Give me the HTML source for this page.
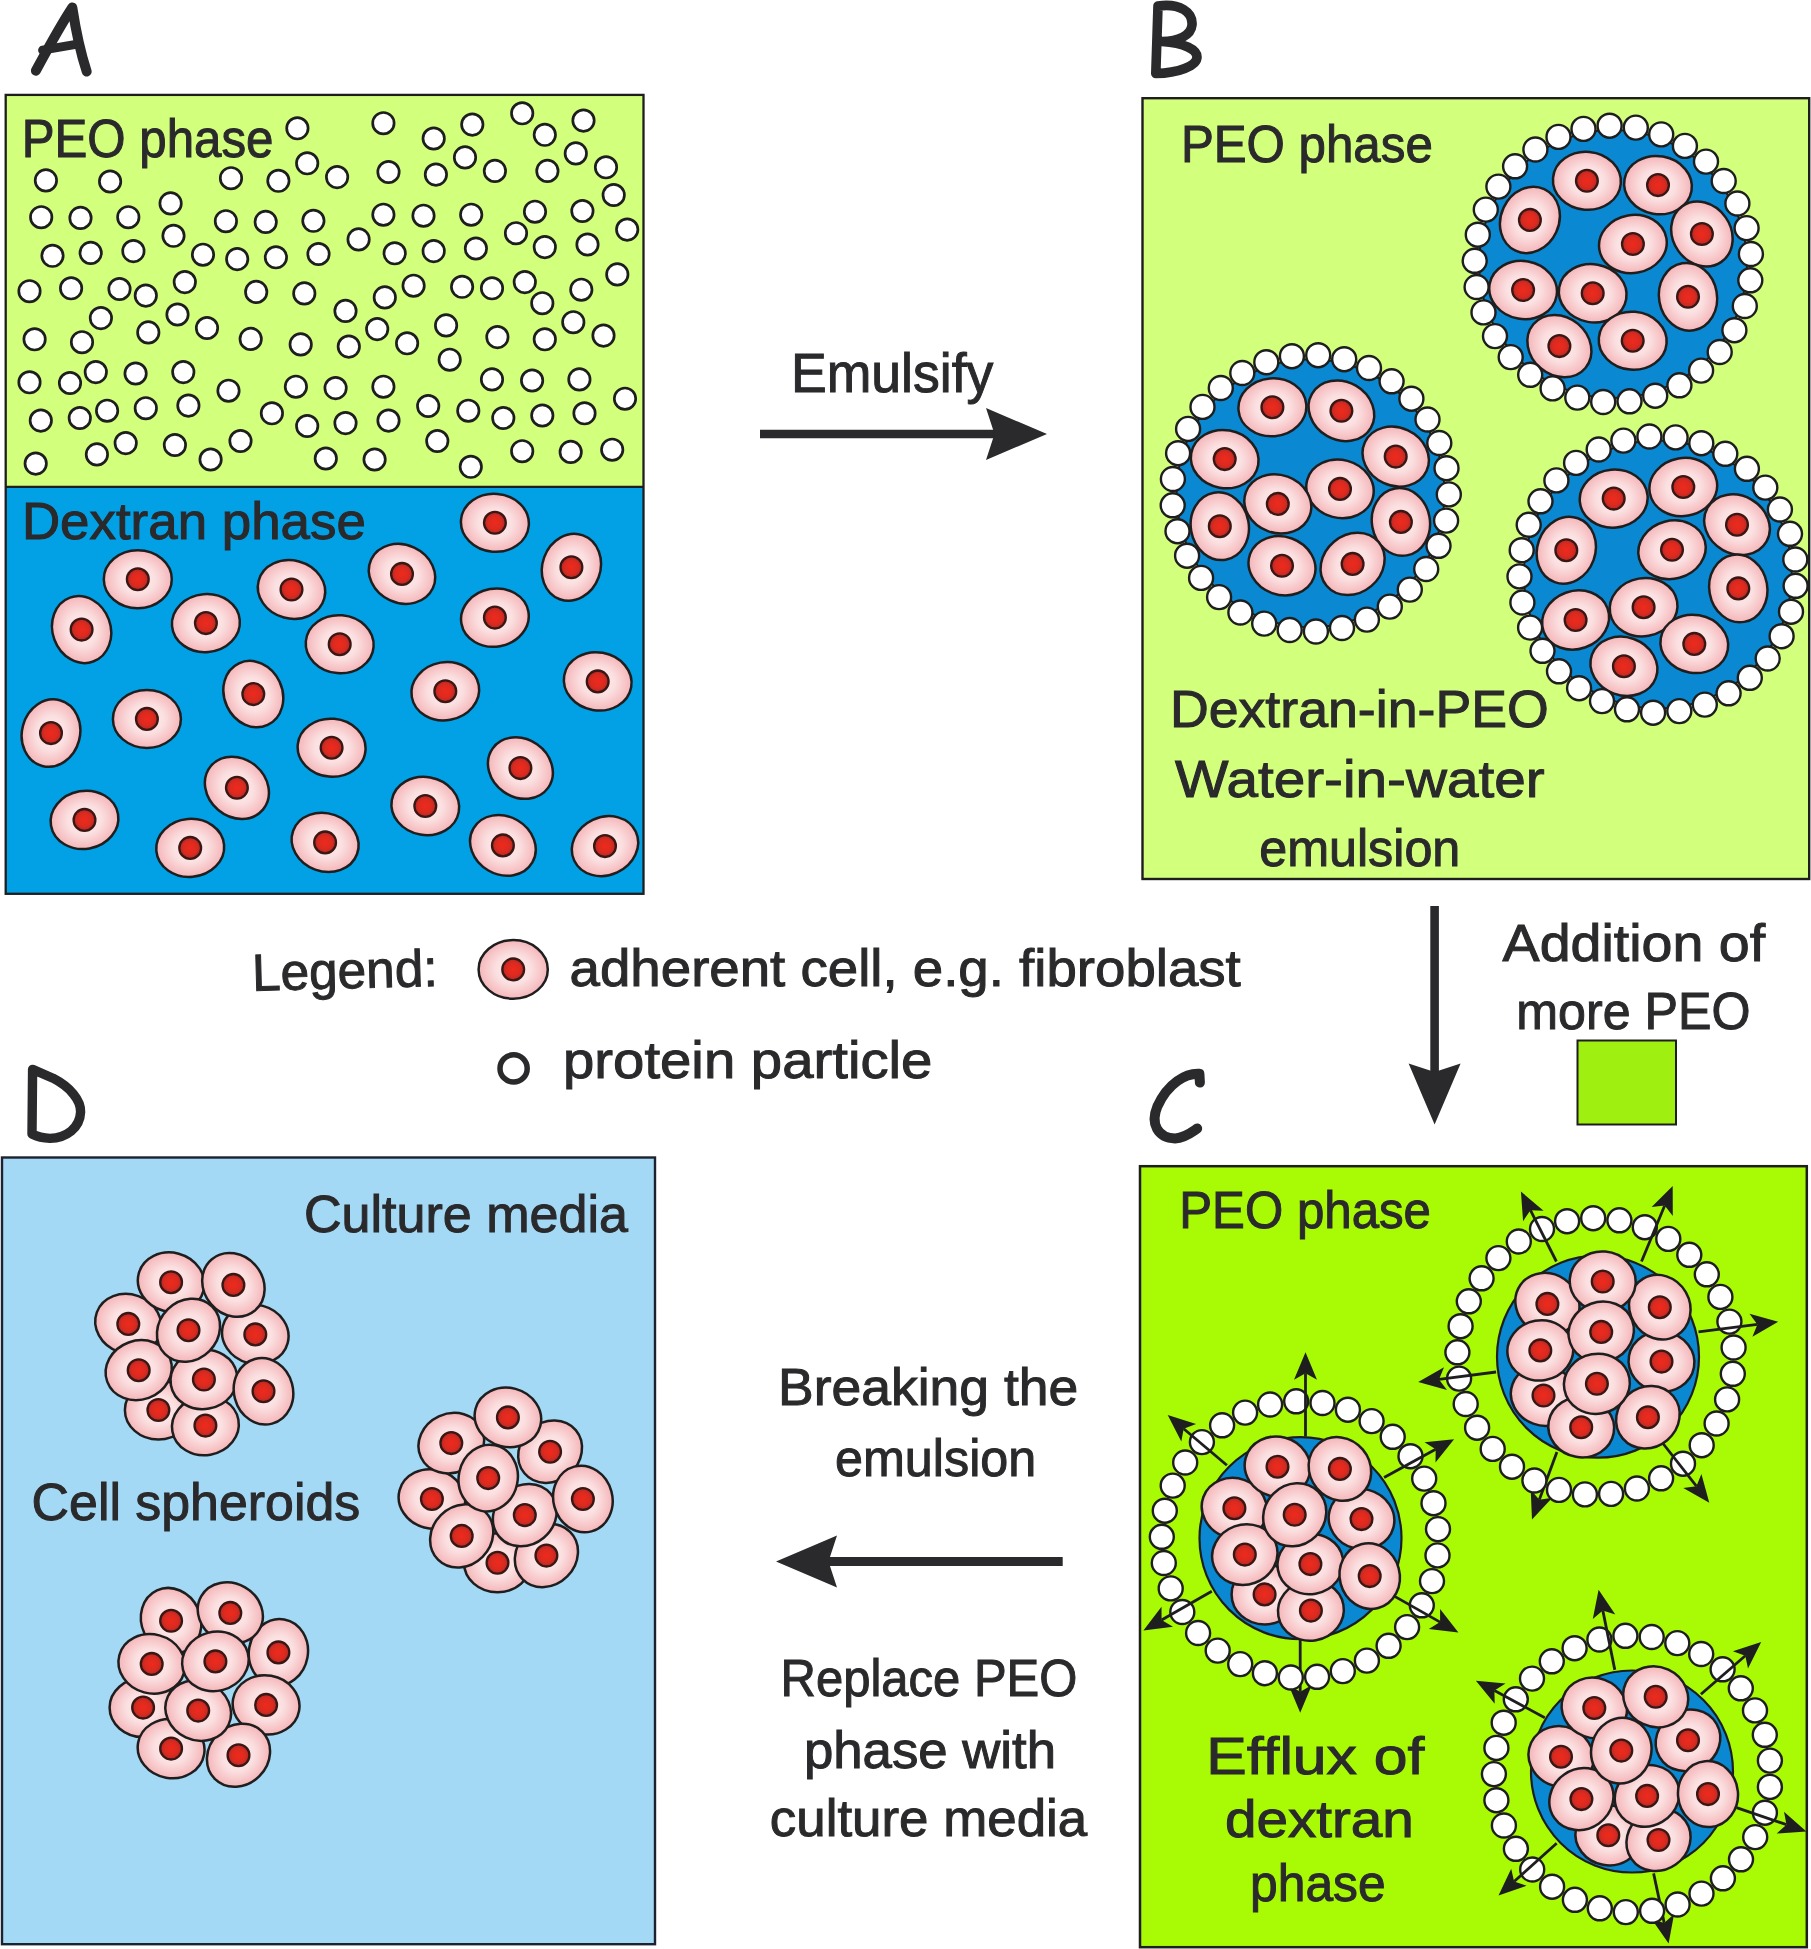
<!DOCTYPE html>
<html><head><meta charset="utf-8"><title>Figure</title>
<style>html,body{margin:0;padding:0;background:#fff}svg{display:block}</style></head>
<body>
<svg width="1811" height="1949" viewBox="0 0 1811 1949">
<defs>
<radialGradient id="cg" cx="50%" cy="50%" r="50%"><stop offset="0" stop-color="#fdeded"/><stop offset="0.5" stop-color="#fbe0e1"/><stop offset="1" stop-color="#f5b6b9"/></radialGradient>
<radialGradient id="ng" cx="50%" cy="50%" r="50%"><stop offset="0" stop-color="#ee2a1c"/><stop offset="0.6" stop-color="#dc2a20"/><stop offset="1" stop-color="#b02a24"/></radialGradient>
</defs>
<rect width="1811" height="1949" fill="#fff"/>
<rect x="5.7" y="94.9" width="637.8" height="392" fill="#d2ff7c"/>
<rect x="5.7" y="486.9" width="637.8" height="406.9" fill="#02a0e5"/>
<g fill="#fff" stroke="#1e1e1e" stroke-width="2.7">
<circle cx="297.4" cy="128.3" r="10.7"/>
<circle cx="383.4" cy="123.2" r="10.7"/>
<circle cx="433.7" cy="138.5" r="10.7"/>
<circle cx="472.3" cy="124.6" r="10.7"/>
<circle cx="522.2" cy="113.3" r="10.7"/>
<circle cx="544.8" cy="134.8" r="10.7"/>
<circle cx="583.5" cy="120.6" r="10.7"/>
<circle cx="45.9" cy="180.4" r="10.7"/>
<circle cx="110.1" cy="181.5" r="10.7"/>
<circle cx="231.0" cy="178.2" r="10.7"/>
<circle cx="278.4" cy="180.8" r="10.7"/>
<circle cx="307.2" cy="163.3" r="10.7"/>
<circle cx="337.1" cy="177.1" r="10.7"/>
<circle cx="388.5" cy="172.0" r="10.7"/>
<circle cx="435.9" cy="174.6" r="10.7"/>
<circle cx="465.0" cy="157.4" r="10.7"/>
<circle cx="494.9" cy="170.9" r="10.7"/>
<circle cx="547.4" cy="170.9" r="10.7"/>
<circle cx="575.8" cy="153.4" r="10.7"/>
<circle cx="606.0" cy="167.3" r="10.7"/>
<circle cx="170.6" cy="203.4" r="10.7"/>
<circle cx="41.2" cy="217.2" r="10.7"/>
<circle cx="80.5" cy="217.9" r="10.7"/>
<circle cx="128.3" cy="217.2" r="10.7"/>
<circle cx="225.9" cy="221.2" r="10.7"/>
<circle cx="265.7" cy="221.9" r="10.7"/>
<circle cx="313.4" cy="220.8" r="10.7"/>
<circle cx="383.4" cy="214.7" r="10.7"/>
<circle cx="423.5" cy="215.7" r="10.7"/>
<circle cx="471.2" cy="214.7" r="10.7"/>
<circle cx="535.0" cy="211.7" r="10.7"/>
<circle cx="582.4" cy="211.0" r="10.7"/>
<circle cx="613.7" cy="195.0" r="10.7"/>
<circle cx="627.2" cy="229.6" r="10.7"/>
<circle cx="173.5" cy="235.8" r="10.7"/>
<circle cx="52.5" cy="255.8" r="10.7"/>
<circle cx="90.7" cy="252.9" r="10.7"/>
<circle cx="133.4" cy="251.1" r="10.7"/>
<circle cx="203.0" cy="254.7" r="10.7"/>
<circle cx="237.2" cy="259.1" r="10.7"/>
<circle cx="275.9" cy="257.3" r="10.7"/>
<circle cx="318.5" cy="254.0" r="10.7"/>
<circle cx="358.6" cy="239.4" r="10.7"/>
<circle cx="394.7" cy="253.3" r="10.7"/>
<circle cx="433.7" cy="251.1" r="10.7"/>
<circle cx="475.9" cy="248.5" r="10.7"/>
<circle cx="516.0" cy="233.2" r="10.7"/>
<circle cx="544.8" cy="247.1" r="10.7"/>
<circle cx="587.5" cy="244.5" r="10.7"/>
<circle cx="29.5" cy="291.2" r="10.7"/>
<circle cx="71.1" cy="288.3" r="10.7"/>
<circle cx="119.5" cy="289.0" r="10.7"/>
<circle cx="145.8" cy="295.6" r="10.7"/>
<circle cx="184.8" cy="282.1" r="10.7"/>
<circle cx="256.2" cy="291.9" r="10.7"/>
<circle cx="304.3" cy="293.4" r="10.7"/>
<circle cx="384.8" cy="297.4" r="10.7"/>
<circle cx="413.6" cy="285.7" r="10.7"/>
<circle cx="462.1" cy="286.8" r="10.7"/>
<circle cx="492.0" cy="288.3" r="10.7"/>
<circle cx="524.8" cy="282.1" r="10.7"/>
<circle cx="542.3" cy="303.2" r="10.7"/>
<circle cx="581.3" cy="289.7" r="10.7"/>
<circle cx="617.3" cy="274.4" r="10.7"/>
<circle cx="100.9" cy="318.1" r="10.7"/>
<circle cx="177.5" cy="314.5" r="10.7"/>
<circle cx="207.0" cy="328.0" r="10.7"/>
<circle cx="345.5" cy="310.9" r="10.7"/>
<circle cx="377.2" cy="329.1" r="10.7"/>
<circle cx="446.1" cy="325.4" r="10.7"/>
<circle cx="34.6" cy="339.3" r="10.7"/>
<circle cx="82.0" cy="342.2" r="10.7"/>
<circle cx="148.3" cy="332.4" r="10.7"/>
<circle cx="250.7" cy="338.9" r="10.7"/>
<circle cx="300.7" cy="344.4" r="10.7"/>
<circle cx="348.8" cy="346.6" r="10.7"/>
<circle cx="407.1" cy="343.3" r="10.7"/>
<circle cx="497.4" cy="337.1" r="10.7"/>
<circle cx="544.8" cy="339.3" r="10.7"/>
<circle cx="573.3" cy="322.2" r="10.7"/>
<circle cx="603.5" cy="335.6" r="10.7"/>
<circle cx="449.7" cy="359.7" r="10.7"/>
<circle cx="95.8" cy="372.1" r="10.7"/>
<circle cx="135.6" cy="373.5" r="10.7"/>
<circle cx="183.3" cy="372.1" r="10.7"/>
<circle cx="29.5" cy="382.3" r="10.7"/>
<circle cx="70.0" cy="383.0" r="10.7"/>
<circle cx="228.5" cy="390.7" r="10.7"/>
<circle cx="295.9" cy="386.7" r="10.7"/>
<circle cx="335.6" cy="388.1" r="10.7"/>
<circle cx="383.4" cy="386.7" r="10.7"/>
<circle cx="492.0" cy="379.4" r="10.7"/>
<circle cx="532.1" cy="380.5" r="10.7"/>
<circle cx="579.4" cy="379.4" r="10.7"/>
<circle cx="625.0" cy="398.7" r="10.7"/>
<circle cx="40.8" cy="420.6" r="10.7"/>
<circle cx="79.8" cy="418.0" r="10.7"/>
<circle cx="107.1" cy="410.7" r="10.7"/>
<circle cx="145.8" cy="408.2" r="10.7"/>
<circle cx="188.4" cy="405.6" r="10.7"/>
<circle cx="271.9" cy="413.3" r="10.7"/>
<circle cx="307.2" cy="426.0" r="10.7"/>
<circle cx="345.5" cy="423.1" r="10.7"/>
<circle cx="388.5" cy="420.6" r="10.7"/>
<circle cx="428.2" cy="406.0" r="10.7"/>
<circle cx="468.3" cy="410.7" r="10.7"/>
<circle cx="503.3" cy="418.0" r="10.7"/>
<circle cx="542.3" cy="415.5" r="10.7"/>
<circle cx="584.5" cy="413.3" r="10.7"/>
<circle cx="125.7" cy="443.1" r="10.7"/>
<circle cx="174.9" cy="445.0" r="10.7"/>
<circle cx="240.5" cy="441.0" r="10.7"/>
<circle cx="96.9" cy="454.4" r="10.7"/>
<circle cx="35.7" cy="463.6" r="10.7"/>
<circle cx="210.6" cy="459.5" r="10.7"/>
<circle cx="325.8" cy="458.5" r="10.7"/>
<circle cx="374.6" cy="459.5" r="10.7"/>
<circle cx="437.3" cy="441.0" r="10.7"/>
<circle cx="470.8" cy="466.8" r="10.7"/>
<circle cx="522.2" cy="451.2" r="10.7"/>
<circle cx="570.7" cy="451.9" r="10.7"/>
<circle cx="612.2" cy="449.7" r="10.7"/>
</g>
<line x1="5.7" y1="486.9" x2="643.5" y2="486.9" stroke="#1e1e1e" stroke-width="2.1"/>
<rect x="5.7" y="94.9" width="637.8" height="798.9" fill="none" stroke="#1e1e1e" stroke-width="2.3"/>
<g transform="translate(494.9 522.8) rotate(5)"><ellipse rx="34" ry="29" fill="url(#cg)" stroke="#1e1e1e" stroke-width="2.5"/></g><circle cx="494.9" cy="522.8" r="10.9" fill="url(#ng)" stroke="#3a1614" stroke-width="2.3"/>
<g transform="translate(571.4 567.3) rotate(-70)"><ellipse rx="34" ry="29" fill="url(#cg)" stroke="#1e1e1e" stroke-width="2.5"/></g><circle cx="571.4" cy="567.3" r="10.9" fill="url(#ng)" stroke="#3a1614" stroke-width="2.3"/>
<g transform="translate(402.0 573.9) rotate(25)"><ellipse rx="34" ry="29" fill="url(#cg)" stroke="#1e1e1e" stroke-width="2.5"/></g><circle cx="402.0" cy="573.9" r="10.9" fill="url(#ng)" stroke="#3a1614" stroke-width="2.3"/>
<g transform="translate(137.8 579.3) rotate(0)"><ellipse rx="34" ry="29" fill="url(#cg)" stroke="#1e1e1e" stroke-width="2.5"/></g><circle cx="137.8" cy="579.3" r="10.9" fill="url(#ng)" stroke="#3a1614" stroke-width="2.3"/>
<g transform="translate(291.5 589.5) rotate(15)"><ellipse rx="34" ry="29" fill="url(#cg)" stroke="#1e1e1e" stroke-width="2.5"/></g><circle cx="291.5" cy="589.5" r="10.9" fill="url(#ng)" stroke="#3a1614" stroke-width="2.3"/>
<g transform="translate(494.9 617.6) rotate(-10)"><ellipse rx="34" ry="29" fill="url(#cg)" stroke="#1e1e1e" stroke-width="2.5"/></g><circle cx="494.9" cy="617.6" r="10.9" fill="url(#ng)" stroke="#3a1614" stroke-width="2.3"/>
<g transform="translate(205.9 623.1) rotate(-5)"><ellipse rx="34" ry="29" fill="url(#cg)" stroke="#1e1e1e" stroke-width="2.5"/></g><circle cx="205.9" cy="623.1" r="10.9" fill="url(#ng)" stroke="#3a1614" stroke-width="2.3"/>
<g transform="translate(81.6 629.6) rotate(70)"><ellipse rx="34" ry="29" fill="url(#cg)" stroke="#1e1e1e" stroke-width="2.5"/></g><circle cx="81.6" cy="629.6" r="10.9" fill="url(#ng)" stroke="#3a1614" stroke-width="2.3"/>
<g transform="translate(339.7 644.2) rotate(5)"><ellipse rx="34" ry="29" fill="url(#cg)" stroke="#1e1e1e" stroke-width="2.5"/></g><circle cx="339.7" cy="644.2" r="10.9" fill="url(#ng)" stroke="#3a1614" stroke-width="2.3"/>
<g transform="translate(597.7 681.4) rotate(10)"><ellipse rx="34" ry="29" fill="url(#cg)" stroke="#1e1e1e" stroke-width="2.5"/></g><circle cx="597.7" cy="681.4" r="10.9" fill="url(#ng)" stroke="#3a1614" stroke-width="2.3"/>
<g transform="translate(445.3 691.2) rotate(-10)"><ellipse rx="34" ry="29" fill="url(#cg)" stroke="#1e1e1e" stroke-width="2.5"/></g><circle cx="445.3" cy="691.2" r="10.9" fill="url(#ng)" stroke="#3a1614" stroke-width="2.3"/>
<g transform="translate(253.3 694.1) rotate(65)"><ellipse rx="34" ry="29" fill="url(#cg)" stroke="#1e1e1e" stroke-width="2.5"/></g><circle cx="253.3" cy="694.1" r="10.9" fill="url(#ng)" stroke="#3a1614" stroke-width="2.3"/>
<g transform="translate(146.9 718.9) rotate(0)"><ellipse rx="34" ry="29" fill="url(#cg)" stroke="#1e1e1e" stroke-width="2.5"/></g><circle cx="146.9" cy="718.9" r="10.9" fill="url(#ng)" stroke="#3a1614" stroke-width="2.3"/>
<g transform="translate(51.0 733.1) rotate(-75)"><ellipse rx="34" ry="29" fill="url(#cg)" stroke="#1e1e1e" stroke-width="2.5"/></g><circle cx="51.0" cy="733.1" r="10.9" fill="url(#ng)" stroke="#3a1614" stroke-width="2.3"/>
<g transform="translate(331.6 747.7) rotate(5)"><ellipse rx="34" ry="29" fill="url(#cg)" stroke="#1e1e1e" stroke-width="2.5"/></g><circle cx="331.6" cy="747.7" r="10.9" fill="url(#ng)" stroke="#3a1614" stroke-width="2.3"/>
<g transform="translate(520.4 768.1) rotate(35)"><ellipse rx="34" ry="29" fill="url(#cg)" stroke="#1e1e1e" stroke-width="2.5"/></g><circle cx="520.4" cy="768.1" r="10.9" fill="url(#ng)" stroke="#3a1614" stroke-width="2.3"/>
<g transform="translate(236.9 787.8) rotate(40)"><ellipse rx="34" ry="29" fill="url(#cg)" stroke="#1e1e1e" stroke-width="2.5"/></g><circle cx="236.9" cy="787.8" r="10.9" fill="url(#ng)" stroke="#3a1614" stroke-width="2.3"/>
<g transform="translate(425.3 806.0) rotate(10)"><ellipse rx="34" ry="29" fill="url(#cg)" stroke="#1e1e1e" stroke-width="2.5"/></g><circle cx="425.3" cy="806.0" r="10.9" fill="url(#ng)" stroke="#3a1614" stroke-width="2.3"/>
<g transform="translate(84.5 819.9) rotate(-10)"><ellipse rx="34" ry="29" fill="url(#cg)" stroke="#1e1e1e" stroke-width="2.5"/></g><circle cx="84.5" cy="819.9" r="10.9" fill="url(#ng)" stroke="#3a1614" stroke-width="2.3"/>
<g transform="translate(325.1 842.4) rotate(20)"><ellipse rx="34" ry="29" fill="url(#cg)" stroke="#1e1e1e" stroke-width="2.5"/></g><circle cx="325.1" cy="842.4" r="10.9" fill="url(#ng)" stroke="#3a1614" stroke-width="2.3"/>
<g transform="translate(190.2 847.9) rotate(-5)"><ellipse rx="34" ry="29" fill="url(#cg)" stroke="#1e1e1e" stroke-width="2.5"/></g><circle cx="190.2" cy="847.9" r="10.9" fill="url(#ng)" stroke="#3a1614" stroke-width="2.3"/>
<g transform="translate(502.9 845.4) rotate(30)"><ellipse rx="34" ry="29" fill="url(#cg)" stroke="#1e1e1e" stroke-width="2.5"/></g><circle cx="502.9" cy="845.4" r="10.9" fill="url(#ng)" stroke="#3a1614" stroke-width="2.3"/>
<g transform="translate(605.0 846.1) rotate(-25)"><ellipse rx="34" ry="29" fill="url(#cg)" stroke="#1e1e1e" stroke-width="2.5"/></g><circle cx="605.0" cy="846.1" r="10.9" fill="url(#ng)" stroke="#3a1614" stroke-width="2.3"/>
<rect x="1142.5" y="98.2" width="666.7" height="780.8" fill="#d2ff7c" stroke="#1e1e1e" stroke-width="2.4"/>
<circle cx="1613" cy="264" r="134" fill="#0a89d2" stroke="#1e1e1e" stroke-width="2"/>
<g transform="translate(1586.9 180.8) rotate(5)"><ellipse rx="34" ry="29" fill="url(#cg)" stroke="#1e1e1e" stroke-width="2.5"/></g><circle cx="1586.9" cy="180.8" r="10.9" fill="url(#ng)" stroke="#3a1614" stroke-width="2.3"/>
<g transform="translate(1658.0 185.1) rotate(10)"><ellipse rx="34" ry="29" fill="url(#cg)" stroke="#1e1e1e" stroke-width="2.5"/></g><circle cx="1658.0" cy="185.1" r="10.9" fill="url(#ng)" stroke="#3a1614" stroke-width="2.3"/>
<g transform="translate(1529.9 219.9) rotate(-65)"><ellipse rx="34" ry="29" fill="url(#cg)" stroke="#1e1e1e" stroke-width="2.5"/></g><circle cx="1529.9" cy="219.9" r="10.9" fill="url(#ng)" stroke="#3a1614" stroke-width="2.3"/>
<g transform="translate(1701.9 234.0) rotate(55)"><ellipse rx="34" ry="29" fill="url(#cg)" stroke="#1e1e1e" stroke-width="2.5"/></g><circle cx="1701.9" cy="234.0" r="10.9" fill="url(#ng)" stroke="#3a1614" stroke-width="2.3"/>
<g transform="translate(1632.9 244.0) rotate(-10)"><ellipse rx="34" ry="29" fill="url(#cg)" stroke="#1e1e1e" stroke-width="2.5"/></g><circle cx="1632.9" cy="244.0" r="10.9" fill="url(#ng)" stroke="#3a1614" stroke-width="2.3"/>
<g transform="translate(1523.1 290.0) rotate(10)"><ellipse rx="34" ry="29" fill="url(#cg)" stroke="#1e1e1e" stroke-width="2.5"/></g><circle cx="1523.1" cy="290.0" r="10.9" fill="url(#ng)" stroke="#3a1614" stroke-width="2.3"/>
<g transform="translate(1592.7 293.3) rotate(10)"><ellipse rx="34" ry="29" fill="url(#cg)" stroke="#1e1e1e" stroke-width="2.5"/></g><circle cx="1592.7" cy="293.3" r="10.9" fill="url(#ng)" stroke="#3a1614" stroke-width="2.3"/>
<g transform="translate(1688.0 296.8) rotate(80)"><ellipse rx="34" ry="29" fill="url(#cg)" stroke="#1e1e1e" stroke-width="2.5"/></g><circle cx="1688.0" cy="296.8" r="10.9" fill="url(#ng)" stroke="#3a1614" stroke-width="2.3"/>
<g transform="translate(1559.4 346.1) rotate(40)"><ellipse rx="34" ry="29" fill="url(#cg)" stroke="#1e1e1e" stroke-width="2.5"/></g><circle cx="1559.4" cy="346.1" r="10.9" fill="url(#ng)" stroke="#3a1614" stroke-width="2.3"/>
<g transform="translate(1632.7 340.7) rotate(5)"><ellipse rx="34" ry="29" fill="url(#cg)" stroke="#1e1e1e" stroke-width="2.5"/></g><circle cx="1632.7" cy="340.7" r="10.9" fill="url(#ng)" stroke="#3a1614" stroke-width="2.3"/>
<circle cx="1609.6" cy="125.7" r="12.0" fill="#fff" stroke="#1e1e1e" stroke-width="2.4"/>
<circle cx="1635.8" cy="127.6" r="12.0" fill="#fff" stroke="#1e1e1e" stroke-width="2.4"/>
<circle cx="1661.2" cy="134.4" r="12.0" fill="#fff" stroke="#1e1e1e" stroke-width="2.4"/>
<circle cx="1684.9" cy="145.9" r="12.0" fill="#fff" stroke="#1e1e1e" stroke-width="2.4"/>
<circle cx="1706.0" cy="161.6" r="12.0" fill="#fff" stroke="#1e1e1e" stroke-width="2.4"/>
<circle cx="1723.7" cy="181.0" r="12.0" fill="#fff" stroke="#1e1e1e" stroke-width="2.4"/>
<circle cx="1737.4" cy="203.5" r="12.0" fill="#fff" stroke="#1e1e1e" stroke-width="2.4"/>
<circle cx="1746.6" cy="228.1" r="12.0" fill="#fff" stroke="#1e1e1e" stroke-width="2.4"/>
<circle cx="1750.9" cy="254.0" r="12.0" fill="#fff" stroke="#1e1e1e" stroke-width="2.4"/>
<circle cx="1750.3" cy="280.3" r="12.0" fill="#fff" stroke="#1e1e1e" stroke-width="2.4"/>
<circle cx="1744.8" cy="306.0" r="12.0" fill="#fff" stroke="#1e1e1e" stroke-width="2.4"/>
<circle cx="1734.4" cy="330.2" r="12.0" fill="#fff" stroke="#1e1e1e" stroke-width="2.4"/>
<circle cx="1719.7" cy="352.0" r="12.0" fill="#fff" stroke="#1e1e1e" stroke-width="2.4"/>
<circle cx="1701.1" cy="370.6" r="12.0" fill="#fff" stroke="#1e1e1e" stroke-width="2.4"/>
<circle cx="1679.4" cy="385.3" r="12.0" fill="#fff" stroke="#1e1e1e" stroke-width="2.4"/>
<circle cx="1655.2" cy="395.7" r="12.0" fill="#fff" stroke="#1e1e1e" stroke-width="2.4"/>
<circle cx="1629.5" cy="401.3" r="12.0" fill="#fff" stroke="#1e1e1e" stroke-width="2.4"/>
<circle cx="1603.2" cy="402.0" r="12.0" fill="#fff" stroke="#1e1e1e" stroke-width="2.4"/>
<circle cx="1577.3" cy="397.6" r="12.0" fill="#fff" stroke="#1e1e1e" stroke-width="2.4"/>
<circle cx="1552.6" cy="388.4" r="12.0" fill="#fff" stroke="#1e1e1e" stroke-width="2.4"/>
<circle cx="1530.2" cy="374.8" r="12.0" fill="#fff" stroke="#1e1e1e" stroke-width="2.4"/>
<circle cx="1510.7" cy="357.1" r="12.0" fill="#fff" stroke="#1e1e1e" stroke-width="2.4"/>
<circle cx="1495.0" cy="336.1" r="12.0" fill="#fff" stroke="#1e1e1e" stroke-width="2.4"/>
<circle cx="1483.5" cy="312.4" r="12.0" fill="#fff" stroke="#1e1e1e" stroke-width="2.4"/>
<circle cx="1476.6" cy="287.0" r="12.0" fill="#fff" stroke="#1e1e1e" stroke-width="2.4"/>
<circle cx="1474.7" cy="260.8" r="12.0" fill="#fff" stroke="#1e1e1e" stroke-width="2.4"/>
<circle cx="1477.8" cy="234.7" r="12.0" fill="#fff" stroke="#1e1e1e" stroke-width="2.4"/>
<circle cx="1485.8" cy="209.6" r="12.0" fill="#fff" stroke="#1e1e1e" stroke-width="2.4"/>
<circle cx="1498.4" cy="186.6" r="12.0" fill="#fff" stroke="#1e1e1e" stroke-width="2.4"/>
<circle cx="1515.1" cy="166.3" r="12.0" fill="#fff" stroke="#1e1e1e" stroke-width="2.4"/>
<circle cx="1535.4" cy="149.5" r="12.0" fill="#fff" stroke="#1e1e1e" stroke-width="2.4"/>
<circle cx="1558.5" cy="136.9" r="12.0" fill="#fff" stroke="#1e1e1e" stroke-width="2.4"/>
<circle cx="1583.5" cy="128.9" r="12.0" fill="#fff" stroke="#1e1e1e" stroke-width="2.4"/>
<circle cx="1310.5" cy="493.3" r="134" fill="#0a89d2" stroke="#1e1e1e" stroke-width="2"/>
<g transform="translate(1272.4 407.3) rotate(-5)"><ellipse rx="34" ry="29" fill="url(#cg)" stroke="#1e1e1e" stroke-width="2.5"/></g><circle cx="1272.4" cy="407.3" r="10.9" fill="url(#ng)" stroke="#3a1614" stroke-width="2.3"/>
<g transform="translate(1341.4 410.8) rotate(30)"><ellipse rx="34" ry="29" fill="url(#cg)" stroke="#1e1e1e" stroke-width="2.5"/></g><circle cx="1341.4" cy="410.8" r="10.9" fill="url(#ng)" stroke="#3a1614" stroke-width="2.3"/>
<g transform="translate(1224.7 459.1) rotate(10)"><ellipse rx="34" ry="29" fill="url(#cg)" stroke="#1e1e1e" stroke-width="2.5"/></g><circle cx="1224.7" cy="459.1" r="10.9" fill="url(#ng)" stroke="#3a1614" stroke-width="2.3"/>
<g transform="translate(1395.7 456.6) rotate(25)"><ellipse rx="34" ry="29" fill="url(#cg)" stroke="#1e1e1e" stroke-width="2.5"/></g><circle cx="1395.7" cy="456.6" r="10.9" fill="url(#ng)" stroke="#3a1614" stroke-width="2.3"/>
<g transform="translate(1340.0 488.9) rotate(15)"><ellipse rx="34" ry="29" fill="url(#cg)" stroke="#1e1e1e" stroke-width="2.5"/></g><circle cx="1340.0" cy="488.9" r="10.9" fill="url(#ng)" stroke="#3a1614" stroke-width="2.3"/>
<g transform="translate(1277.8 503.9) rotate(20)"><ellipse rx="34" ry="29" fill="url(#cg)" stroke="#1e1e1e" stroke-width="2.5"/></g><circle cx="1277.8" cy="503.9" r="10.9" fill="url(#ng)" stroke="#3a1614" stroke-width="2.3"/>
<g transform="translate(1219.8 526.2) rotate(80)"><ellipse rx="34" ry="29" fill="url(#cg)" stroke="#1e1e1e" stroke-width="2.5"/></g><circle cx="1219.8" cy="526.2" r="10.9" fill="url(#ng)" stroke="#3a1614" stroke-width="2.3"/>
<g transform="translate(1400.9 521.9) rotate(80)"><ellipse rx="34" ry="29" fill="url(#cg)" stroke="#1e1e1e" stroke-width="2.5"/></g><circle cx="1400.9" cy="521.9" r="10.9" fill="url(#ng)" stroke="#3a1614" stroke-width="2.3"/>
<g transform="translate(1282.0 565.8) rotate(20)"><ellipse rx="34" ry="29" fill="url(#cg)" stroke="#1e1e1e" stroke-width="2.5"/></g><circle cx="1282.0" cy="565.8" r="10.9" fill="url(#ng)" stroke="#3a1614" stroke-width="2.3"/>
<g transform="translate(1352.6 563.9) rotate(-40)"><ellipse rx="34" ry="29" fill="url(#cg)" stroke="#1e1e1e" stroke-width="2.5"/></g><circle cx="1352.6" cy="563.9" r="10.9" fill="url(#ng)" stroke="#3a1614" stroke-width="2.3"/>
<circle cx="1318.2" cy="355.2" r="12.0" fill="#fff" stroke="#1e1e1e" stroke-width="2.4"/>
<circle cx="1344.2" cy="359.2" r="12.0" fill="#fff" stroke="#1e1e1e" stroke-width="2.4"/>
<circle cx="1369.0" cy="368.0" r="12.0" fill="#fff" stroke="#1e1e1e" stroke-width="2.4"/>
<circle cx="1391.6" cy="381.3" r="12.0" fill="#fff" stroke="#1e1e1e" stroke-width="2.4"/>
<circle cx="1411.4" cy="398.7" r="12.0" fill="#fff" stroke="#1e1e1e" stroke-width="2.4"/>
<circle cx="1427.5" cy="419.5" r="12.0" fill="#fff" stroke="#1e1e1e" stroke-width="2.4"/>
<circle cx="1439.3" cy="443.0" r="12.0" fill="#fff" stroke="#1e1e1e" stroke-width="2.4"/>
<circle cx="1446.5" cy="468.2" r="12.0" fill="#fff" stroke="#1e1e1e" stroke-width="2.4"/>
<circle cx="1448.8" cy="494.4" r="12.0" fill="#fff" stroke="#1e1e1e" stroke-width="2.4"/>
<circle cx="1446.1" cy="520.6" r="12.0" fill="#fff" stroke="#1e1e1e" stroke-width="2.4"/>
<circle cx="1438.5" cy="545.8" r="12.0" fill="#fff" stroke="#1e1e1e" stroke-width="2.4"/>
<circle cx="1426.2" cy="569.0" r="12.0" fill="#fff" stroke="#1e1e1e" stroke-width="2.4"/>
<circle cx="1409.8" cy="589.6" r="12.0" fill="#fff" stroke="#1e1e1e" stroke-width="2.4"/>
<circle cx="1389.8" cy="606.6" r="12.0" fill="#fff" stroke="#1e1e1e" stroke-width="2.4"/>
<circle cx="1366.9" cy="619.6" r="12.0" fill="#fff" stroke="#1e1e1e" stroke-width="2.4"/>
<circle cx="1342.0" cy="628.0" r="12.0" fill="#fff" stroke="#1e1e1e" stroke-width="2.4"/>
<circle cx="1315.9" cy="631.5" r="12.0" fill="#fff" stroke="#1e1e1e" stroke-width="2.4"/>
<circle cx="1289.7" cy="630.0" r="12.0" fill="#fff" stroke="#1e1e1e" stroke-width="2.4"/>
<circle cx="1264.2" cy="623.6" r="12.0" fill="#fff" stroke="#1e1e1e" stroke-width="2.4"/>
<circle cx="1240.4" cy="612.5" r="12.0" fill="#fff" stroke="#1e1e1e" stroke-width="2.4"/>
<circle cx="1219.1" cy="597.1" r="12.0" fill="#fff" stroke="#1e1e1e" stroke-width="2.4"/>
<circle cx="1201.1" cy="577.9" r="12.0" fill="#fff" stroke="#1e1e1e" stroke-width="2.4"/>
<circle cx="1187.1" cy="555.7" r="12.0" fill="#fff" stroke="#1e1e1e" stroke-width="2.4"/>
<circle cx="1177.5" cy="531.2" r="12.0" fill="#fff" stroke="#1e1e1e" stroke-width="2.4"/>
<circle cx="1172.7" cy="505.3" r="12.0" fill="#fff" stroke="#1e1e1e" stroke-width="2.4"/>
<circle cx="1172.9" cy="479.0" r="12.0" fill="#fff" stroke="#1e1e1e" stroke-width="2.4"/>
<circle cx="1178.1" cy="453.2" r="12.0" fill="#fff" stroke="#1e1e1e" stroke-width="2.4"/>
<circle cx="1188.1" cy="428.9" r="12.0" fill="#fff" stroke="#1e1e1e" stroke-width="2.4"/>
<circle cx="1202.5" cy="406.9" r="12.0" fill="#fff" stroke="#1e1e1e" stroke-width="2.4"/>
<circle cx="1220.8" cy="388.0" r="12.0" fill="#fff" stroke="#1e1e1e" stroke-width="2.4"/>
<circle cx="1242.3" cy="373.0" r="12.0" fill="#fff" stroke="#1e1e1e" stroke-width="2.4"/>
<circle cx="1266.3" cy="362.2" r="12.0" fill="#fff" stroke="#1e1e1e" stroke-width="2.4"/>
<circle cx="1291.9" cy="356.2" r="12.0" fill="#fff" stroke="#1e1e1e" stroke-width="2.4"/>
<circle cx="1657.8" cy="574.5" r="134" fill="#0a89d2" stroke="#1e1e1e" stroke-width="2"/>
<g transform="translate(1613.7 498.6) rotate(-5)"><ellipse rx="34" ry="29" fill="url(#cg)" stroke="#1e1e1e" stroke-width="2.5"/></g><circle cx="1613.7" cy="498.6" r="10.9" fill="url(#ng)" stroke="#3a1614" stroke-width="2.3"/>
<g transform="translate(1683.3 487.0) rotate(-10)"><ellipse rx="34" ry="29" fill="url(#cg)" stroke="#1e1e1e" stroke-width="2.5"/></g><circle cx="1683.3" cy="487.0" r="10.9" fill="url(#ng)" stroke="#3a1614" stroke-width="2.3"/>
<g transform="translate(1737.0 524.7) rotate(30)"><ellipse rx="34" ry="29" fill="url(#cg)" stroke="#1e1e1e" stroke-width="2.5"/></g><circle cx="1737.0" cy="524.7" r="10.9" fill="url(#ng)" stroke="#3a1614" stroke-width="2.3"/>
<g transform="translate(1566.3 550.2) rotate(-70)"><ellipse rx="34" ry="29" fill="url(#cg)" stroke="#1e1e1e" stroke-width="2.5"/></g><circle cx="1566.3" cy="550.2" r="10.9" fill="url(#ng)" stroke="#3a1614" stroke-width="2.3"/>
<g transform="translate(1672.0 549.8) rotate(-15)"><ellipse rx="34" ry="29" fill="url(#cg)" stroke="#1e1e1e" stroke-width="2.5"/></g><circle cx="1672.0" cy="549.8" r="10.9" fill="url(#ng)" stroke="#3a1614" stroke-width="2.3"/>
<g transform="translate(1738.3 588.4) rotate(80)"><ellipse rx="34" ry="29" fill="url(#cg)" stroke="#1e1e1e" stroke-width="2.5"/></g><circle cx="1738.3" cy="588.4" r="10.9" fill="url(#ng)" stroke="#3a1614" stroke-width="2.3"/>
<g transform="translate(1643.6 607.2) rotate(-10)"><ellipse rx="34" ry="29" fill="url(#cg)" stroke="#1e1e1e" stroke-width="2.5"/></g><circle cx="1643.6" cy="607.2" r="10.9" fill="url(#ng)" stroke="#3a1614" stroke-width="2.3"/>
<g transform="translate(1575.6 620.0) rotate(-20)"><ellipse rx="34" ry="29" fill="url(#cg)" stroke="#1e1e1e" stroke-width="2.5"/></g><circle cx="1575.6" cy="620.0" r="10.9" fill="url(#ng)" stroke="#3a1614" stroke-width="2.3"/>
<g transform="translate(1694.3 643.9) rotate(10)"><ellipse rx="34" ry="29" fill="url(#cg)" stroke="#1e1e1e" stroke-width="2.5"/></g><circle cx="1694.3" cy="643.9" r="10.9" fill="url(#ng)" stroke="#3a1614" stroke-width="2.3"/>
<g transform="translate(1623.9 666.3) rotate(20)"><ellipse rx="34" ry="29" fill="url(#cg)" stroke="#1e1e1e" stroke-width="2.5"/></g><circle cx="1623.9" cy="666.3" r="10.9" fill="url(#ng)" stroke="#3a1614" stroke-width="2.3"/>
<circle cx="1649.4" cy="436.5" r="12.0" fill="#fff" stroke="#1e1e1e" stroke-width="2.4"/>
<circle cx="1675.6" cy="437.4" r="12.0" fill="#fff" stroke="#1e1e1e" stroke-width="2.4"/>
<circle cx="1701.3" cy="443.2" r="12.0" fill="#fff" stroke="#1e1e1e" stroke-width="2.4"/>
<circle cx="1725.3" cy="453.8" r="12.0" fill="#fff" stroke="#1e1e1e" stroke-width="2.4"/>
<circle cx="1746.9" cy="468.8" r="12.0" fill="#fff" stroke="#1e1e1e" stroke-width="2.4"/>
<circle cx="1765.3" cy="487.6" r="12.0" fill="#fff" stroke="#1e1e1e" stroke-width="2.4"/>
<circle cx="1779.9" cy="509.5" r="12.0" fill="#fff" stroke="#1e1e1e" stroke-width="2.4"/>
<circle cx="1790.0" cy="533.8" r="12.0" fill="#fff" stroke="#1e1e1e" stroke-width="2.4"/>
<circle cx="1795.3" cy="559.5" r="12.0" fill="#fff" stroke="#1e1e1e" stroke-width="2.4"/>
<circle cx="1795.6" cy="585.8" r="12.0" fill="#fff" stroke="#1e1e1e" stroke-width="2.4"/>
<circle cx="1791.0" cy="611.7" r="12.0" fill="#fff" stroke="#1e1e1e" stroke-width="2.4"/>
<circle cx="1781.6" cy="636.2" r="12.0" fill="#fff" stroke="#1e1e1e" stroke-width="2.4"/>
<circle cx="1767.7" cy="658.5" r="12.0" fill="#fff" stroke="#1e1e1e" stroke-width="2.4"/>
<circle cx="1749.8" cy="677.8" r="12.0" fill="#fff" stroke="#1e1e1e" stroke-width="2.4"/>
<circle cx="1728.6" cy="693.3" r="12.0" fill="#fff" stroke="#1e1e1e" stroke-width="2.4"/>
<circle cx="1704.8" cy="704.6" r="12.0" fill="#fff" stroke="#1e1e1e" stroke-width="2.4"/>
<circle cx="1679.3" cy="711.1" r="12.0" fill="#fff" stroke="#1e1e1e" stroke-width="2.4"/>
<circle cx="1653.1" cy="712.7" r="12.0" fill="#fff" stroke="#1e1e1e" stroke-width="2.4"/>
<circle cx="1627.0" cy="709.3" r="12.0" fill="#fff" stroke="#1e1e1e" stroke-width="2.4"/>
<circle cx="1602.0" cy="701.1" r="12.0" fill="#fff" stroke="#1e1e1e" stroke-width="2.4"/>
<circle cx="1579.1" cy="688.2" r="12.0" fill="#fff" stroke="#1e1e1e" stroke-width="2.4"/>
<circle cx="1559.0" cy="671.3" r="12.0" fill="#fff" stroke="#1e1e1e" stroke-width="2.4"/>
<circle cx="1542.5" cy="650.8" r="12.0" fill="#fff" stroke="#1e1e1e" stroke-width="2.4"/>
<circle cx="1530.1" cy="627.6" r="12.0" fill="#fff" stroke="#1e1e1e" stroke-width="2.4"/>
<circle cx="1522.4" cy="602.5" r="12.0" fill="#fff" stroke="#1e1e1e" stroke-width="2.4"/>
<circle cx="1519.5" cy="576.4" r="12.0" fill="#fff" stroke="#1e1e1e" stroke-width="2.4"/>
<circle cx="1521.7" cy="550.2" r="12.0" fill="#fff" stroke="#1e1e1e" stroke-width="2.4"/>
<circle cx="1528.7" cy="524.8" r="12.0" fill="#fff" stroke="#1e1e1e" stroke-width="2.4"/>
<circle cx="1540.5" cy="501.3" r="12.0" fill="#fff" stroke="#1e1e1e" stroke-width="2.4"/>
<circle cx="1556.4" cy="480.4" r="12.0" fill="#fff" stroke="#1e1e1e" stroke-width="2.4"/>
<circle cx="1576.1" cy="462.9" r="12.0" fill="#fff" stroke="#1e1e1e" stroke-width="2.4"/>
<circle cx="1598.7" cy="449.5" r="12.0" fill="#fff" stroke="#1e1e1e" stroke-width="2.4"/>
<circle cx="1623.4" cy="440.6" r="12.0" fill="#fff" stroke="#1e1e1e" stroke-width="2.4"/>
<rect x="1140" y="1166.2" width="666.8" height="781" fill="#a8fb05" stroke="#1e1e1e" stroke-width="2.5"/>
<circle cx="1598" cy="1356.7" r="101" fill="#0a89d2" stroke="#1e1e1e" stroke-width="2.2"/>
<g transform="translate(1547.4 1303.9) rotate(35)"><ellipse rx="33" ry="30" fill="url(#cg)" stroke="#1e1e1e" stroke-width="2.5"/></g><circle cx="1547.4" cy="1303.9" r="10.9" fill="url(#ng)" stroke="#3a1614" stroke-width="2.3"/>
<g transform="translate(1543.5 1395.5) rotate(20)"><ellipse rx="33" ry="30" fill="url(#cg)" stroke="#1e1e1e" stroke-width="2.5"/></g><circle cx="1543.5" cy="1395.5" r="10.9" fill="url(#ng)" stroke="#3a1614" stroke-width="2.3"/>
<g transform="translate(1661.5 1361.6) rotate(10)"><ellipse rx="33" ry="30" fill="url(#cg)" stroke="#1e1e1e" stroke-width="2.5"/></g><circle cx="1661.5" cy="1361.6" r="10.9" fill="url(#ng)" stroke="#3a1614" stroke-width="2.3"/>
<g transform="translate(1540.3 1350.4) rotate(-10)"><ellipse rx="33" ry="30" fill="url(#cg)" stroke="#1e1e1e" stroke-width="2.5"/></g><circle cx="1540.3" cy="1350.4" r="10.9" fill="url(#ng)" stroke="#3a1614" stroke-width="2.3"/>
<g transform="translate(1659.8 1307.2) rotate(60)"><ellipse rx="33" ry="30" fill="url(#cg)" stroke="#1e1e1e" stroke-width="2.5"/></g><circle cx="1659.8" cy="1307.2" r="10.9" fill="url(#ng)" stroke="#3a1614" stroke-width="2.3"/>
<g transform="translate(1602.7 1281.5) rotate(5)"><ellipse rx="33" ry="30" fill="url(#cg)" stroke="#1e1e1e" stroke-width="2.5"/></g><circle cx="1602.7" cy="1281.5" r="10.9" fill="url(#ng)" stroke="#3a1614" stroke-width="2.3"/>
<g transform="translate(1581.2 1427.3) rotate(10)"><ellipse rx="33" ry="30" fill="url(#cg)" stroke="#1e1e1e" stroke-width="2.5"/></g><circle cx="1581.2" cy="1427.3" r="10.9" fill="url(#ng)" stroke="#3a1614" stroke-width="2.3"/>
<g transform="translate(1647.9 1417.2) rotate(-40)"><ellipse rx="33" ry="30" fill="url(#cg)" stroke="#1e1e1e" stroke-width="2.5"/></g><circle cx="1647.9" cy="1417.2" r="10.9" fill="url(#ng)" stroke="#3a1614" stroke-width="2.3"/>
<g transform="translate(1601.2 1331.9) rotate(-20)"><ellipse rx="33" ry="30" fill="url(#cg)" stroke="#1e1e1e" stroke-width="2.5"/></g><circle cx="1601.2" cy="1331.9" r="10.9" fill="url(#ng)" stroke="#3a1614" stroke-width="2.3"/>
<g transform="translate(1596.9 1383.8) rotate(-10)"><ellipse rx="33" ry="30" fill="url(#cg)" stroke="#1e1e1e" stroke-width="2.5"/></g><circle cx="1596.9" cy="1383.8" r="10.9" fill="url(#ng)" stroke="#3a1614" stroke-width="2.3"/>
<line x1="1556.9" y1="1452.1" x2="1539.3" y2="1499.8" stroke="#1e1e1e" stroke-width="2.8"/>
<path d="M1532.0 1519.5 L1530.7 1489.7 L1539.3 1499.8 L1552.3 1497.7Z" fill="#1e1e1e"/>
<circle cx="1593.2" cy="1218.2" r="12.0" fill="#fff" stroke="#1e1e1e" stroke-width="2.4"/>
<circle cx="1619.4" cy="1220.3" r="12.0" fill="#fff" stroke="#1e1e1e" stroke-width="2.4"/>
<circle cx="1644.8" cy="1227.2" r="12.0" fill="#fff" stroke="#1e1e1e" stroke-width="2.4"/>
<circle cx="1668.3" cy="1238.9" r="12.0" fill="#fff" stroke="#1e1e1e" stroke-width="2.4"/>
<circle cx="1689.3" cy="1254.8" r="12.0" fill="#fff" stroke="#1e1e1e" stroke-width="2.4"/>
<circle cx="1706.8" cy="1274.3" r="12.0" fill="#fff" stroke="#1e1e1e" stroke-width="2.4"/>
<circle cx="1720.4" cy="1296.9" r="12.0" fill="#fff" stroke="#1e1e1e" stroke-width="2.4"/>
<circle cx="1729.4" cy="1321.6" r="12.0" fill="#fff" stroke="#1e1e1e" stroke-width="2.4"/>
<circle cx="1733.6" cy="1347.5" r="12.0" fill="#fff" stroke="#1e1e1e" stroke-width="2.4"/>
<circle cx="1732.8" cy="1373.8" r="12.0" fill="#fff" stroke="#1e1e1e" stroke-width="2.4"/>
<circle cx="1727.1" cy="1399.4" r="12.0" fill="#fff" stroke="#1e1e1e" stroke-width="2.4"/>
<circle cx="1716.6" cy="1423.5" r="12.0" fill="#fff" stroke="#1e1e1e" stroke-width="2.4"/>
<circle cx="1701.7" cy="1445.2" r="12.0" fill="#fff" stroke="#1e1e1e" stroke-width="2.4"/>
<circle cx="1683.0" cy="1463.7" r="12.0" fill="#fff" stroke="#1e1e1e" stroke-width="2.4"/>
<circle cx="1661.1" cy="1478.3" r="12.0" fill="#fff" stroke="#1e1e1e" stroke-width="2.4"/>
<circle cx="1636.9" cy="1488.5" r="12.0" fill="#fff" stroke="#1e1e1e" stroke-width="2.4"/>
<circle cx="1611.1" cy="1493.9" r="12.0" fill="#fff" stroke="#1e1e1e" stroke-width="2.4"/>
<circle cx="1584.9" cy="1494.4" r="12.0" fill="#fff" stroke="#1e1e1e" stroke-width="2.4"/>
<circle cx="1559.0" cy="1489.9" r="12.0" fill="#fff" stroke="#1e1e1e" stroke-width="2.4"/>
<circle cx="1534.4" cy="1480.5" r="12.0" fill="#fff" stroke="#1e1e1e" stroke-width="2.4"/>
<circle cx="1512.0" cy="1466.7" r="12.0" fill="#fff" stroke="#1e1e1e" stroke-width="2.4"/>
<circle cx="1492.7" cy="1448.9" r="12.0" fill="#fff" stroke="#1e1e1e" stroke-width="2.4"/>
<circle cx="1477.1" cy="1427.7" r="12.0" fill="#fff" stroke="#1e1e1e" stroke-width="2.4"/>
<circle cx="1465.7" cy="1404.0" r="12.0" fill="#fff" stroke="#1e1e1e" stroke-width="2.4"/>
<circle cx="1459.1" cy="1378.6" r="12.0" fill="#fff" stroke="#1e1e1e" stroke-width="2.4"/>
<circle cx="1457.4" cy="1352.3" r="12.0" fill="#fff" stroke="#1e1e1e" stroke-width="2.4"/>
<circle cx="1460.6" cy="1326.2" r="12.0" fill="#fff" stroke="#1e1e1e" stroke-width="2.4"/>
<circle cx="1468.8" cy="1301.3" r="12.0" fill="#fff" stroke="#1e1e1e" stroke-width="2.4"/>
<circle cx="1481.6" cy="1278.3" r="12.0" fill="#fff" stroke="#1e1e1e" stroke-width="2.4"/>
<circle cx="1498.4" cy="1258.1" r="12.0" fill="#fff" stroke="#1e1e1e" stroke-width="2.4"/>
<circle cx="1518.8" cy="1241.5" r="12.0" fill="#fff" stroke="#1e1e1e" stroke-width="2.4"/>
<circle cx="1542.0" cy="1229.0" r="12.0" fill="#fff" stroke="#1e1e1e" stroke-width="2.4"/>
<circle cx="1567.1" cy="1221.2" r="12.0" fill="#fff" stroke="#1e1e1e" stroke-width="2.4"/>
<line x1="1556.4" y1="1261.5" x2="1530.4" y2="1210.2" stroke="#1e1e1e" stroke-width="2.8"/>
<path d="M1520.9 1191.5 L1543.6 1210.8 L1530.4 1210.2 L1523.1 1221.2Z" fill="#1e1e1e"/>
<line x1="1641.5" y1="1261.5" x2="1664.7" y2="1205.5" stroke="#1e1e1e" stroke-width="2.8"/>
<path d="M1672.7 1186.1 L1672.8 1215.9 L1664.7 1205.5 L1651.6 1207.1Z" fill="#1e1e1e"/>
<line x1="1698.5" y1="1331.9" x2="1757.4" y2="1324.4" stroke="#1e1e1e" stroke-width="2.8"/>
<path d="M1778.2 1321.8 L1752.4 1336.7 L1757.4 1324.4 L1749.5 1313.8Z" fill="#1e1e1e"/>
<line x1="1496.1" y1="1372.0" x2="1439.0" y2="1379.4" stroke="#1e1e1e" stroke-width="2.8"/>
<path d="M1418.2 1382.1 L1444.0 1367.2 L1439.0 1379.4 L1447.0 1390.0Z" fill="#1e1e1e"/>
<line x1="1663.0" y1="1443.5" x2="1696.4" y2="1486.2" stroke="#1e1e1e" stroke-width="2.8"/>
<path d="M1709.3 1502.7 L1683.3 1488.1 L1696.4 1486.2 L1701.4 1474.0Z" fill="#1e1e1e"/>
<circle cx="1300.5" cy="1538.2" r="101" fill="#0a89d2" stroke="#1e1e1e" stroke-width="2.2"/>
<g transform="translate(1234.4 1508.3) rotate(20)"><ellipse rx="33" ry="30" fill="url(#cg)" stroke="#1e1e1e" stroke-width="2.5"/></g><circle cx="1234.4" cy="1508.3" r="10.9" fill="url(#ng)" stroke="#3a1614" stroke-width="2.3"/>
<g transform="translate(1277.5 1466.7) rotate(15)"><ellipse rx="33" ry="30" fill="url(#cg)" stroke="#1e1e1e" stroke-width="2.5"/></g><circle cx="1277.5" cy="1466.7" r="10.9" fill="url(#ng)" stroke="#3a1614" stroke-width="2.3"/>
<g transform="translate(1361.5 1519.1) rotate(15)"><ellipse rx="33" ry="30" fill="url(#cg)" stroke="#1e1e1e" stroke-width="2.5"/></g><circle cx="1361.5" cy="1519.1" r="10.9" fill="url(#ng)" stroke="#3a1614" stroke-width="2.3"/>
<g transform="translate(1339.9 1468.9) rotate(50)"><ellipse rx="33" ry="30" fill="url(#cg)" stroke="#1e1e1e" stroke-width="2.5"/></g><circle cx="1339.9" cy="1468.9" r="10.9" fill="url(#ng)" stroke="#3a1614" stroke-width="2.3"/>
<g transform="translate(1264.6 1594.4) rotate(0)"><ellipse rx="33" ry="30" fill="url(#cg)" stroke="#1e1e1e" stroke-width="2.5"/></g><circle cx="1264.6" cy="1594.4" r="10.9" fill="url(#ng)" stroke="#3a1614" stroke-width="2.3"/>
<g transform="translate(1310.9 1610.6) rotate(-10)"><ellipse rx="33" ry="30" fill="url(#cg)" stroke="#1e1e1e" stroke-width="2.5"/></g><circle cx="1310.9" cy="1610.6" r="10.9" fill="url(#ng)" stroke="#3a1614" stroke-width="2.3"/>
<g transform="translate(1244.8 1554.6) rotate(-20)"><ellipse rx="33" ry="30" fill="url(#cg)" stroke="#1e1e1e" stroke-width="2.5"/></g><circle cx="1244.8" cy="1554.6" r="10.9" fill="url(#ng)" stroke="#3a1614" stroke-width="2.3"/>
<g transform="translate(1310.4 1564.1) rotate(-10)"><ellipse rx="33" ry="30" fill="url(#cg)" stroke="#1e1e1e" stroke-width="2.5"/></g><circle cx="1310.4" cy="1564.1" r="10.9" fill="url(#ng)" stroke="#3a1614" stroke-width="2.3"/>
<g transform="translate(1369.7 1576.1) rotate(75)"><ellipse rx="33" ry="30" fill="url(#cg)" stroke="#1e1e1e" stroke-width="2.5"/></g><circle cx="1369.7" cy="1576.1" r="10.9" fill="url(#ng)" stroke="#3a1614" stroke-width="2.3"/>
<g transform="translate(1294.7 1514.8) rotate(-45)"><ellipse rx="33" ry="30" fill="url(#cg)" stroke="#1e1e1e" stroke-width="2.5"/></g><circle cx="1294.7" cy="1514.8" r="10.9" fill="url(#ng)" stroke="#3a1614" stroke-width="2.3"/>
<line x1="1300.2" y1="1640.1" x2="1300.2" y2="1691.8" stroke="#1e1e1e" stroke-width="2.8"/>
<path d="M1300.2 1712.8 L1288.7 1685.3 L1300.2 1691.8 L1311.7 1685.3Z" fill="#1e1e1e"/>
<circle cx="1296.2" cy="1401.3" r="12.0" fill="#fff" stroke="#1e1e1e" stroke-width="2.4"/>
<circle cx="1322.5" cy="1403.0" r="12.0" fill="#fff" stroke="#1e1e1e" stroke-width="2.4"/>
<circle cx="1347.9" cy="1409.7" r="12.0" fill="#fff" stroke="#1e1e1e" stroke-width="2.4"/>
<circle cx="1371.6" cy="1421.1" r="12.0" fill="#fff" stroke="#1e1e1e" stroke-width="2.4"/>
<circle cx="1392.7" cy="1436.8" r="12.0" fill="#fff" stroke="#1e1e1e" stroke-width="2.4"/>
<circle cx="1410.5" cy="1456.2" r="12.0" fill="#fff" stroke="#1e1e1e" stroke-width="2.4"/>
<circle cx="1424.2" cy="1478.6" r="12.0" fill="#fff" stroke="#1e1e1e" stroke-width="2.4"/>
<circle cx="1433.5" cy="1503.2" r="12.0" fill="#fff" stroke="#1e1e1e" stroke-width="2.4"/>
<circle cx="1438.0" cy="1529.1" r="12.0" fill="#fff" stroke="#1e1e1e" stroke-width="2.4"/>
<circle cx="1437.5" cy="1555.4" r="12.0" fill="#fff" stroke="#1e1e1e" stroke-width="2.4"/>
<circle cx="1432.0" cy="1581.1" r="12.0" fill="#fff" stroke="#1e1e1e" stroke-width="2.4"/>
<circle cx="1421.8" cy="1605.3" r="12.0" fill="#fff" stroke="#1e1e1e" stroke-width="2.4"/>
<circle cx="1407.1" cy="1627.1" r="12.0" fill="#fff" stroke="#1e1e1e" stroke-width="2.4"/>
<circle cx="1388.6" cy="1645.8" r="12.0" fill="#fff" stroke="#1e1e1e" stroke-width="2.4"/>
<circle cx="1366.9" cy="1660.6" r="12.0" fill="#fff" stroke="#1e1e1e" stroke-width="2.4"/>
<circle cx="1342.8" cy="1671.1" r="12.0" fill="#fff" stroke="#1e1e1e" stroke-width="2.4"/>
<circle cx="1317.1" cy="1676.8" r="12.0" fill="#fff" stroke="#1e1e1e" stroke-width="2.4"/>
<circle cx="1290.8" cy="1677.5" r="12.0" fill="#fff" stroke="#1e1e1e" stroke-width="2.4"/>
<circle cx="1264.9" cy="1673.2" r="12.0" fill="#fff" stroke="#1e1e1e" stroke-width="2.4"/>
<circle cx="1240.2" cy="1664.1" r="12.0" fill="#fff" stroke="#1e1e1e" stroke-width="2.4"/>
<circle cx="1217.7" cy="1650.6" r="12.0" fill="#fff" stroke="#1e1e1e" stroke-width="2.4"/>
<circle cx="1198.1" cy="1633.0" r="12.0" fill="#fff" stroke="#1e1e1e" stroke-width="2.4"/>
<circle cx="1182.3" cy="1612.0" r="12.0" fill="#fff" stroke="#1e1e1e" stroke-width="2.4"/>
<circle cx="1170.7" cy="1588.4" r="12.0" fill="#fff" stroke="#1e1e1e" stroke-width="2.4"/>
<circle cx="1163.8" cy="1563.0" r="12.0" fill="#fff" stroke="#1e1e1e" stroke-width="2.4"/>
<circle cx="1161.8" cy="1536.8" r="12.0" fill="#fff" stroke="#1e1e1e" stroke-width="2.4"/>
<circle cx="1164.8" cy="1510.7" r="12.0" fill="#fff" stroke="#1e1e1e" stroke-width="2.4"/>
<circle cx="1172.7" cy="1485.6" r="12.0" fill="#fff" stroke="#1e1e1e" stroke-width="2.4"/>
<circle cx="1185.2" cy="1462.5" r="12.0" fill="#fff" stroke="#1e1e1e" stroke-width="2.4"/>
<circle cx="1201.9" cy="1442.1" r="12.0" fill="#fff" stroke="#1e1e1e" stroke-width="2.4"/>
<circle cx="1222.1" cy="1425.3" r="12.0" fill="#fff" stroke="#1e1e1e" stroke-width="2.4"/>
<circle cx="1245.1" cy="1412.6" r="12.0" fill="#fff" stroke="#1e1e1e" stroke-width="2.4"/>
<circle cx="1270.1" cy="1404.5" r="12.0" fill="#fff" stroke="#1e1e1e" stroke-width="2.4"/>
<line x1="1305.5" y1="1436.6" x2="1305.5" y2="1373.2" stroke="#1e1e1e" stroke-width="2.8"/>
<path d="M1305.5 1352.2 L1317.0 1379.7 L1305.5 1373.2 L1294.0 1379.7Z" fill="#1e1e1e"/>
<line x1="1226.9" y1="1465.2" x2="1183.7" y2="1428.7" stroke="#1e1e1e" stroke-width="2.8"/>
<path d="M1167.7 1415.1 L1196.1 1424.1 L1183.7 1428.7 L1181.3 1441.6Z" fill="#1e1e1e"/>
<line x1="1384.1" y1="1477.5" x2="1435.7" y2="1449.3" stroke="#1e1e1e" stroke-width="2.8"/>
<path d="M1454.1 1439.2 L1435.5 1462.5 L1435.7 1449.3 L1424.5 1442.3Z" fill="#1e1e1e"/>
<line x1="1211.8" y1="1591.2" x2="1161.6" y2="1620.0" stroke="#1e1e1e" stroke-width="2.8"/>
<path d="M1143.4 1630.4 L1161.5 1606.7 L1161.6 1620.0 L1173.0 1626.7Z" fill="#1e1e1e"/>
<line x1="1393.8" y1="1595.9" x2="1440.1" y2="1622.1" stroke="#1e1e1e" stroke-width="2.8"/>
<path d="M1458.4 1632.5 L1428.8 1628.9 L1440.1 1622.1 L1440.1 1608.9Z" fill="#1e1e1e"/>
<circle cx="1632" cy="1771.5" r="101" fill="#0a89d2" stroke="#1e1e1e" stroke-width="2.2"/>
<g transform="translate(1561.0 1756.7) rotate(25)"><ellipse rx="33" ry="30" fill="url(#cg)" stroke="#1e1e1e" stroke-width="2.5"/></g><circle cx="1561.0" cy="1756.7" r="10.9" fill="url(#ng)" stroke="#3a1614" stroke-width="2.3"/>
<g transform="translate(1594.3 1708.0) rotate(20)"><ellipse rx="33" ry="30" fill="url(#cg)" stroke="#1e1e1e" stroke-width="2.5"/></g><circle cx="1594.3" cy="1708.0" r="10.9" fill="url(#ng)" stroke="#3a1614" stroke-width="2.3"/>
<g transform="translate(1688.0 1740.3) rotate(-30)"><ellipse rx="33" ry="30" fill="url(#cg)" stroke="#1e1e1e" stroke-width="2.5"/></g><circle cx="1688.0" cy="1740.3" r="10.9" fill="url(#ng)" stroke="#3a1614" stroke-width="2.3"/>
<g transform="translate(1655.7 1696.8) rotate(25)"><ellipse rx="33" ry="30" fill="url(#cg)" stroke="#1e1e1e" stroke-width="2.5"/></g><circle cx="1655.7" cy="1696.8" r="10.9" fill="url(#ng)" stroke="#3a1614" stroke-width="2.3"/>
<g transform="translate(1608.3 1835.3) rotate(10)"><ellipse rx="33" ry="30" fill="url(#cg)" stroke="#1e1e1e" stroke-width="2.5"/></g><circle cx="1608.3" cy="1835.3" r="10.9" fill="url(#ng)" stroke="#3a1614" stroke-width="2.3"/>
<g transform="translate(1658.5 1840.0) rotate(-35)"><ellipse rx="33" ry="30" fill="url(#cg)" stroke="#1e1e1e" stroke-width="2.5"/></g><circle cx="1658.5" cy="1840.0" r="10.9" fill="url(#ng)" stroke="#3a1614" stroke-width="2.3"/>
<g transform="translate(1647.1 1795.9) rotate(-30)"><ellipse rx="33" ry="30" fill="url(#cg)" stroke="#1e1e1e" stroke-width="2.5"/></g><circle cx="1647.1" cy="1795.9" r="10.9" fill="url(#ng)" stroke="#3a1614" stroke-width="2.3"/>
<g transform="translate(1581.4 1799.1) rotate(-35)"><ellipse rx="33" ry="30" fill="url(#cg)" stroke="#1e1e1e" stroke-width="2.5"/></g><circle cx="1581.4" cy="1799.1" r="10.9" fill="url(#ng)" stroke="#3a1614" stroke-width="2.3"/>
<g transform="translate(1708.0 1794.1) rotate(85)"><ellipse rx="33" ry="30" fill="url(#cg)" stroke="#1e1e1e" stroke-width="2.5"/></g><circle cx="1708.0" cy="1794.1" r="10.9" fill="url(#ng)" stroke="#3a1614" stroke-width="2.3"/>
<g transform="translate(1621.3 1750.6) rotate(-75)"><ellipse rx="33" ry="30" fill="url(#cg)" stroke="#1e1e1e" stroke-width="2.5"/></g><circle cx="1621.3" cy="1750.6" r="10.9" fill="url(#ng)" stroke="#3a1614" stroke-width="2.3"/>
<line x1="1653.6" y1="1873.4" x2="1664.2" y2="1922.9" stroke="#1e1e1e" stroke-width="2.8"/>
<path d="M1668.6 1943.4 L1651.6 1918.9 L1664.2 1922.9 L1674.1 1914.1Z" fill="#1e1e1e"/>
<circle cx="1625.4" cy="1635.8" r="12.0" fill="#fff" stroke="#1e1e1e" stroke-width="2.4"/>
<circle cx="1651.7" cy="1637.0" r="12.0" fill="#fff" stroke="#1e1e1e" stroke-width="2.4"/>
<circle cx="1677.3" cy="1643.1" r="12.0" fill="#fff" stroke="#1e1e1e" stroke-width="2.4"/>
<circle cx="1701.2" cy="1654.0" r="12.0" fill="#fff" stroke="#1e1e1e" stroke-width="2.4"/>
<circle cx="1722.6" cy="1669.3" r="12.0" fill="#fff" stroke="#1e1e1e" stroke-width="2.4"/>
<circle cx="1740.8" cy="1688.3" r="12.0" fill="#fff" stroke="#1e1e1e" stroke-width="2.4"/>
<circle cx="1755.0" cy="1710.4" r="12.0" fill="#fff" stroke="#1e1e1e" stroke-width="2.4"/>
<circle cx="1764.8" cy="1734.8" r="12.0" fill="#fff" stroke="#1e1e1e" stroke-width="2.4"/>
<circle cx="1769.9" cy="1760.6" r="12.0" fill="#fff" stroke="#1e1e1e" stroke-width="2.4"/>
<circle cx="1769.9" cy="1786.9" r="12.0" fill="#fff" stroke="#1e1e1e" stroke-width="2.4"/>
<circle cx="1764.9" cy="1812.7" r="12.0" fill="#fff" stroke="#1e1e1e" stroke-width="2.4"/>
<circle cx="1755.2" cy="1837.1" r="12.0" fill="#fff" stroke="#1e1e1e" stroke-width="2.4"/>
<circle cx="1741.0" cy="1859.3" r="12.0" fill="#fff" stroke="#1e1e1e" stroke-width="2.4"/>
<circle cx="1722.9" cy="1878.3" r="12.0" fill="#fff" stroke="#1e1e1e" stroke-width="2.4"/>
<circle cx="1701.5" cy="1893.6" r="12.0" fill="#fff" stroke="#1e1e1e" stroke-width="2.4"/>
<circle cx="1677.6" cy="1904.5" r="12.0" fill="#fff" stroke="#1e1e1e" stroke-width="2.4"/>
<circle cx="1652.1" cy="1910.8" r="12.0" fill="#fff" stroke="#1e1e1e" stroke-width="2.4"/>
<circle cx="1625.8" cy="1912.1" r="12.0" fill="#fff" stroke="#1e1e1e" stroke-width="2.4"/>
<circle cx="1599.8" cy="1908.3" r="12.0" fill="#fff" stroke="#1e1e1e" stroke-width="2.4"/>
<circle cx="1574.9" cy="1899.8" r="12.0" fill="#fff" stroke="#1e1e1e" stroke-width="2.4"/>
<circle cx="1552.1" cy="1886.7" r="12.0" fill="#fff" stroke="#1e1e1e" stroke-width="2.4"/>
<circle cx="1532.2" cy="1869.5" r="12.0" fill="#fff" stroke="#1e1e1e" stroke-width="2.4"/>
<circle cx="1515.9" cy="1848.8" r="12.0" fill="#fff" stroke="#1e1e1e" stroke-width="2.4"/>
<circle cx="1503.9" cy="1825.5" r="12.0" fill="#fff" stroke="#1e1e1e" stroke-width="2.4"/>
<circle cx="1496.4" cy="1800.2" r="12.0" fill="#fff" stroke="#1e1e1e" stroke-width="2.4"/>
<circle cx="1493.9" cy="1774.1" r="12.0" fill="#fff" stroke="#1e1e1e" stroke-width="2.4"/>
<circle cx="1496.4" cy="1747.9" r="12.0" fill="#fff" stroke="#1e1e1e" stroke-width="2.4"/>
<circle cx="1503.7" cy="1722.7" r="12.0" fill="#fff" stroke="#1e1e1e" stroke-width="2.4"/>
<circle cx="1515.8" cy="1699.3" r="12.0" fill="#fff" stroke="#1e1e1e" stroke-width="2.4"/>
<circle cx="1532.0" cy="1678.6" r="12.0" fill="#fff" stroke="#1e1e1e" stroke-width="2.4"/>
<circle cx="1551.8" cy="1661.3" r="12.0" fill="#fff" stroke="#1e1e1e" stroke-width="2.4"/>
<circle cx="1574.6" cy="1648.2" r="12.0" fill="#fff" stroke="#1e1e1e" stroke-width="2.4"/>
<circle cx="1599.4" cy="1639.5" r="12.0" fill="#fff" stroke="#1e1e1e" stroke-width="2.4"/>
<line x1="1614.8" y1="1669.9" x2="1602.8" y2="1610.4" stroke="#1e1e1e" stroke-width="2.8"/>
<path d="M1598.6 1589.8 L1615.3 1614.5 L1602.8 1610.4 L1592.8 1619.0Z" fill="#1e1e1e"/>
<line x1="1544.8" y1="1717.7" x2="1494.4" y2="1690.6" stroke="#1e1e1e" stroke-width="2.8"/>
<path d="M1475.9 1680.7 L1505.6 1683.6 L1494.4 1690.6 L1494.7 1703.8Z" fill="#1e1e1e"/>
<line x1="1700.9" y1="1694.2" x2="1745.3" y2="1655.7" stroke="#1e1e1e" stroke-width="2.8"/>
<path d="M1761.2 1641.9 L1748.0 1668.6 L1745.3 1655.7 L1732.9 1651.2Z" fill="#1e1e1e"/>
<line x1="1736.5" y1="1807.7" x2="1786.5" y2="1824.7" stroke="#1e1e1e" stroke-width="2.8"/>
<path d="M1806.4 1831.4 L1776.7 1833.5 L1786.5 1824.7 L1784.0 1811.7Z" fill="#1e1e1e"/>
<line x1="1556.7" y1="1843.2" x2="1514.1" y2="1881.5" stroke="#1e1e1e" stroke-width="2.8"/>
<path d="M1498.5 1895.6 L1511.2 1868.7 L1514.1 1881.5 L1526.6 1885.7Z" fill="#1e1e1e"/>
<rect x="2" y="1157.5" width="653" height="786.7" fill="#a3d9f5" stroke="#1c2230" stroke-width="2.4"/>
<g transform="translate(128.3 1323.9) rotate(20)"><ellipse rx="33.5" ry="29.5" fill="url(#cg)" stroke="#1e1e1e" stroke-width="2.5"/></g><circle cx="128.3" cy="1323.9" r="10.9" fill="url(#ng)" stroke="#3a1614" stroke-width="2.3"/>
<g transform="translate(171.1 1282.2) rotate(15)"><ellipse rx="33.5" ry="29.5" fill="url(#cg)" stroke="#1e1e1e" stroke-width="2.5"/></g><circle cx="171.1" cy="1282.2" r="10.9" fill="url(#ng)" stroke="#3a1614" stroke-width="2.3"/>
<g transform="translate(255.3 1334.4) rotate(15)"><ellipse rx="33.5" ry="29.5" fill="url(#cg)" stroke="#1e1e1e" stroke-width="2.5"/></g><circle cx="255.3" cy="1334.4" r="10.9" fill="url(#ng)" stroke="#3a1614" stroke-width="2.3"/>
<g transform="translate(233.4 1284.9) rotate(50)"><ellipse rx="33.5" ry="29.5" fill="url(#cg)" stroke="#1e1e1e" stroke-width="2.5"/></g><circle cx="233.4" cy="1284.9" r="10.9" fill="url(#ng)" stroke="#3a1614" stroke-width="2.3"/>
<g transform="translate(158.4 1410.0) rotate(0)"><ellipse rx="33.5" ry="29.5" fill="url(#cg)" stroke="#1e1e1e" stroke-width="2.5"/></g><circle cx="158.4" cy="1410.0" r="10.9" fill="url(#ng)" stroke="#3a1614" stroke-width="2.3"/>
<g transform="translate(205.4 1425.6) rotate(-10)"><ellipse rx="33.5" ry="29.5" fill="url(#cg)" stroke="#1e1e1e" stroke-width="2.5"/></g><circle cx="205.4" cy="1425.6" r="10.9" fill="url(#ng)" stroke="#3a1614" stroke-width="2.3"/>
<g transform="translate(138.7 1370.2) rotate(-20)"><ellipse rx="33.5" ry="29.5" fill="url(#cg)" stroke="#1e1e1e" stroke-width="2.5"/></g><circle cx="138.7" cy="1370.2" r="10.9" fill="url(#ng)" stroke="#3a1614" stroke-width="2.3"/>
<g transform="translate(203.9 1379.5) rotate(-10)"><ellipse rx="33.5" ry="29.5" fill="url(#cg)" stroke="#1e1e1e" stroke-width="2.5"/></g><circle cx="203.9" cy="1379.5" r="10.9" fill="url(#ng)" stroke="#3a1614" stroke-width="2.3"/>
<g transform="translate(263.5 1391.3) rotate(75)"><ellipse rx="33.5" ry="29.5" fill="url(#cg)" stroke="#1e1e1e" stroke-width="2.5"/></g><circle cx="263.5" cy="1391.3" r="10.9" fill="url(#ng)" stroke="#3a1614" stroke-width="2.3"/>
<g transform="translate(188.5 1330.2) rotate(-45)"><ellipse rx="33.5" ry="29.5" fill="url(#cg)" stroke="#1e1e1e" stroke-width="2.5"/></g><circle cx="188.5" cy="1330.2" r="10.9" fill="url(#ng)" stroke="#3a1614" stroke-width="2.3"/>
<g transform="translate(431.9 1499.0) rotate(15)"><ellipse rx="33.5" ry="29.5" fill="url(#cg)" stroke="#1e1e1e" stroke-width="2.5"/></g><circle cx="431.9" cy="1499.0" r="10.9" fill="url(#ng)" stroke="#3a1614" stroke-width="2.3"/>
<g transform="translate(451.3 1443.1) rotate(-25)"><ellipse rx="33.5" ry="29.5" fill="url(#cg)" stroke="#1e1e1e" stroke-width="2.5"/></g><circle cx="451.3" cy="1443.1" r="10.9" fill="url(#ng)" stroke="#3a1614" stroke-width="2.3"/>
<g transform="translate(550.1 1451.7) rotate(-40)"><ellipse rx="33.5" ry="29.5" fill="url(#cg)" stroke="#1e1e1e" stroke-width="2.5"/></g><circle cx="550.1" cy="1451.7" r="10.9" fill="url(#ng)" stroke="#3a1614" stroke-width="2.3"/>
<g transform="translate(507.9 1417.4) rotate(15)"><ellipse rx="33.5" ry="29.5" fill="url(#cg)" stroke="#1e1e1e" stroke-width="2.5"/></g><circle cx="507.9" cy="1417.4" r="10.9" fill="url(#ng)" stroke="#3a1614" stroke-width="2.3"/>
<g transform="translate(497.5 1562.8) rotate(0)"><ellipse rx="33.5" ry="29.5" fill="url(#cg)" stroke="#1e1e1e" stroke-width="2.5"/></g><circle cx="497.5" cy="1562.8" r="10.9" fill="url(#ng)" stroke="#3a1614" stroke-width="2.3"/>
<g transform="translate(546.4 1555.6) rotate(-45)"><ellipse rx="33.5" ry="29.5" fill="url(#cg)" stroke="#1e1e1e" stroke-width="2.5"/></g><circle cx="546.4" cy="1555.6" r="10.9" fill="url(#ng)" stroke="#3a1614" stroke-width="2.3"/>
<g transform="translate(461.7 1535.9) rotate(-45)"><ellipse rx="33.5" ry="29.5" fill="url(#cg)" stroke="#1e1e1e" stroke-width="2.5"/></g><circle cx="461.7" cy="1535.9" r="10.9" fill="url(#ng)" stroke="#3a1614" stroke-width="2.3"/>
<g transform="translate(524.8 1515.1) rotate(-40)"><ellipse rx="33.5" ry="29.5" fill="url(#cg)" stroke="#1e1e1e" stroke-width="2.5"/></g><circle cx="524.8" cy="1515.1" r="10.9" fill="url(#ng)" stroke="#3a1614" stroke-width="2.3"/>
<g transform="translate(582.9 1499.0) rotate(75)"><ellipse rx="33.5" ry="29.5" fill="url(#cg)" stroke="#1e1e1e" stroke-width="2.5"/></g><circle cx="582.9" cy="1499.0" r="10.9" fill="url(#ng)" stroke="#3a1614" stroke-width="2.3"/>
<g transform="translate(488.2 1478.1) rotate(-78)"><ellipse rx="33.5" ry="29.5" fill="url(#cg)" stroke="#1e1e1e" stroke-width="2.5"/></g><circle cx="488.2" cy="1478.1" r="10.9" fill="url(#ng)" stroke="#3a1614" stroke-width="2.3"/>
<g transform="translate(171.1 1620.8) rotate(65)"><ellipse rx="33.5" ry="29.5" fill="url(#cg)" stroke="#1e1e1e" stroke-width="2.5"/></g><circle cx="171.1" cy="1620.8" r="10.9" fill="url(#ng)" stroke="#3a1614" stroke-width="2.3"/>
<g transform="translate(278.4 1652.4) rotate(-80)"><ellipse rx="33.5" ry="29.5" fill="url(#cg)" stroke="#1e1e1e" stroke-width="2.5"/></g><circle cx="278.4" cy="1652.4" r="10.9" fill="url(#ng)" stroke="#3a1614" stroke-width="2.3"/>
<g transform="translate(230.3 1612.9) rotate(30)"><ellipse rx="33.5" ry="29.5" fill="url(#cg)" stroke="#1e1e1e" stroke-width="2.5"/></g><circle cx="230.3" cy="1612.9" r="10.9" fill="url(#ng)" stroke="#3a1614" stroke-width="2.3"/>
<g transform="translate(143.1 1707.6) rotate(0)"><ellipse rx="33.5" ry="29.5" fill="url(#cg)" stroke="#1e1e1e" stroke-width="2.5"/></g><circle cx="143.1" cy="1707.6" r="10.9" fill="url(#ng)" stroke="#3a1614" stroke-width="2.3"/>
<g transform="translate(266.1 1704.9) rotate(10)"><ellipse rx="33.5" ry="29.5" fill="url(#cg)" stroke="#1e1e1e" stroke-width="2.5"/></g><circle cx="266.1" cy="1704.9" r="10.9" fill="url(#ng)" stroke="#3a1614" stroke-width="2.3"/>
<g transform="translate(151.7 1663.9) rotate(15)"><ellipse rx="33.5" ry="29.5" fill="url(#cg)" stroke="#1e1e1e" stroke-width="2.5"/></g><circle cx="151.7" cy="1663.9" r="10.9" fill="url(#ng)" stroke="#3a1614" stroke-width="2.3"/>
<g transform="translate(171.1 1748.6) rotate(10)"><ellipse rx="33.5" ry="29.5" fill="url(#cg)" stroke="#1e1e1e" stroke-width="2.5"/></g><circle cx="171.1" cy="1748.6" r="10.9" fill="url(#ng)" stroke="#3a1614" stroke-width="2.3"/>
<g transform="translate(238.5 1755.3) rotate(-45)"><ellipse rx="33.5" ry="29.5" fill="url(#cg)" stroke="#1e1e1e" stroke-width="2.5"/></g><circle cx="238.5" cy="1755.3" r="10.9" fill="url(#ng)" stroke="#3a1614" stroke-width="2.3"/>
<g transform="translate(198.2 1710.6) rotate(25)"><ellipse rx="33.5" ry="29.5" fill="url(#cg)" stroke="#1e1e1e" stroke-width="2.5"/></g><circle cx="198.2" cy="1710.6" r="10.9" fill="url(#ng)" stroke="#3a1614" stroke-width="2.3"/>
<g transform="translate(215.4 1661.4) rotate(-15)"><ellipse rx="33.5" ry="29.5" fill="url(#cg)" stroke="#1e1e1e" stroke-width="2.5"/></g><circle cx="215.4" cy="1661.4" r="10.9" fill="url(#ng)" stroke="#3a1614" stroke-width="2.3"/>
<line x1="760.0" y1="434.0" x2="996.5" y2="434.0" stroke="#2a292b" stroke-width="8.6"/>
<path d="M1047.0 434.0 L986.0 460.0 L994.5 434.0 L986.0 408.0Z" fill="#2a292b"/>
<line x1="1434.6" y1="906.0" x2="1434.6" y2="1074.0" stroke="#2a292b" stroke-width="8.6"/>
<path d="M1434.6 1124.5 L1408.6 1063.5 L1434.6 1072.0 L1460.6 1063.5Z" fill="#2a292b"/>
<line x1="1062.7" y1="1561.6" x2="826.5" y2="1561.6" stroke="#2a292b" stroke-width="9"/>
<path d="M776.0 1561.6 L837.0 1535.6 L828.5 1561.6 L837.0 1587.6Z" fill="#2a292b"/>
<rect x="1577.5" y="1040.5" width="98.5" height="84" fill="#9ff010" stroke="#1e1e1e" stroke-width="2"/>
<g transform="translate(513.2 969.4) rotate(0)"><ellipse rx="34.6" ry="29.3" fill="url(#cg)" stroke="#1e1e1e" stroke-width="2.5"/></g><circle cx="513.2" cy="969.4" r="10.9" fill="url(#ng)" stroke="#3a1614" stroke-width="2.3"/>
<circle cx="513.6" cy="1068.4" r="13.6" fill="#fff" stroke="#2a292b" stroke-width="5.5"/>
<g fill="none" stroke="#2a292b" stroke-linecap="round" stroke-linejoin="round">
<path stroke-width="10" d="M35.9 70.7 Q60 26 72.3 7.5 Q78 45 86.7 71.5"/><path stroke-width="8.8" d="M42.5 50.2 L77.3 44.2"/>
<path stroke-width="9.6" d="M1158 6 L1155.8 73.5 M1158 6 C1180 3 1193 12 1192 25 C1191 36 1178 41 1162 41.5 C1185 43 1197 50 1197 57 C1197 66 1178 73 1155.8 73.5"/>
<path stroke-width="10" d="M1199.9 1082.6 L1199.4 1073.8 C1186 1073 1168 1083 1157.4 1106.4 C1150 1124 1158 1138 1175.1 1138.4 C1185 1138 1192 1132 1197.2 1128.5"/>
<path stroke-width="9.4" d="M32.6 1069.4 L32 1134 M32.6 1069.4 L53 1078.2 C70 1087 81 1100 80.6 1112 C80 1128 66 1138 50 1138.4 C42 1138 36 1136 32 1134"/>
</g>
<g font-family="'Liberation Sans', sans-serif" fill="#2a292b" stroke="#2a292b" stroke-width="1">
<text x="21.7" y="157.4" font-size="53" textLength="251.7" lengthAdjust="spacingAndGlyphs">PEO phase</text>
<text x="21.9" y="538.5" font-size="52" textLength="343.9" lengthAdjust="spacingAndGlyphs">Dextran phase</text>
<text x="790.9" y="392.4" font-size="56" textLength="202.5" lengthAdjust="spacingAndGlyphs">Emulsify</text>
<text x="1180.9" y="161.7" font-size="52" textLength="251.9" lengthAdjust="spacingAndGlyphs">PEO phase</text>
<text x="1169.9" y="726.8" font-size="52" textLength="378.9" lengthAdjust="spacingAndGlyphs">Dextran-in-PEO</text>
<text x="1175.0" y="797.0" font-size="52" textLength="369.6" lengthAdjust="spacingAndGlyphs">Water-in-water</text>
<text x="1259.2" y="866.3" font-size="52" textLength="201.1" lengthAdjust="spacingAndGlyphs">emulsion</text>
<text x="1502.6" y="960.9" font-size="52" textLength="262.6" lengthAdjust="spacingAndGlyphs">Addition of</text>
<text x="1516.3" y="1028.6" font-size="52" textLength="234.1" lengthAdjust="spacingAndGlyphs">more PEO</text>
<text x="252.5" y="990.7" font-size="52" textLength="185.5" lengthAdjust="spacingAndGlyphs" transform="rotate(-1.5 252.5 990.7)">Legend:</text>
<text x="569.6" y="986.0" font-size="52" textLength="671.2" lengthAdjust="spacingAndGlyphs">adherent cell, e.g. fibroblast</text>
<text x="563.0" y="1078.0" font-size="52" textLength="369.4" lengthAdjust="spacingAndGlyphs">protein particle</text>
<text x="304.0" y="1232.0" font-size="52" textLength="324.0" lengthAdjust="spacingAndGlyphs">Culture media</text>
<text x="31.6" y="1520.0" font-size="52" textLength="328.6" lengthAdjust="spacingAndGlyphs">Cell spheroids</text>
<text x="778.1" y="1405.0" font-size="52" textLength="300.1" lengthAdjust="spacingAndGlyphs">Breaking the</text>
<text x="835.0" y="1475.7" font-size="52" textLength="201.3" lengthAdjust="spacingAndGlyphs">emulsion</text>
<text x="780.5" y="1696.0" font-size="52" textLength="296.9" lengthAdjust="spacingAndGlyphs">Replace PEO</text>
<text x="803.9" y="1768.0" font-size="52" textLength="252.2" lengthAdjust="spacingAndGlyphs">phase with</text>
<text x="769.8" y="1835.8" font-size="52" textLength="317.4" lengthAdjust="spacingAndGlyphs">culture media</text>
<text x="1179.3" y="1228.4" font-size="52" textLength="251.7" lengthAdjust="spacingAndGlyphs">PEO phase</text>
<text x="1206.3" y="1773.5" font-size="52" textLength="218.1" lengthAdjust="spacingAndGlyphs">Efflux of</text>
<text x="1224.9" y="1836.9" font-size="52" textLength="189.0" lengthAdjust="spacingAndGlyphs">dextran</text>
<text x="1250.1" y="1901.2" font-size="52" textLength="135.5" lengthAdjust="spacingAndGlyphs">phase</text>
</g>
</svg>
</body></html>
